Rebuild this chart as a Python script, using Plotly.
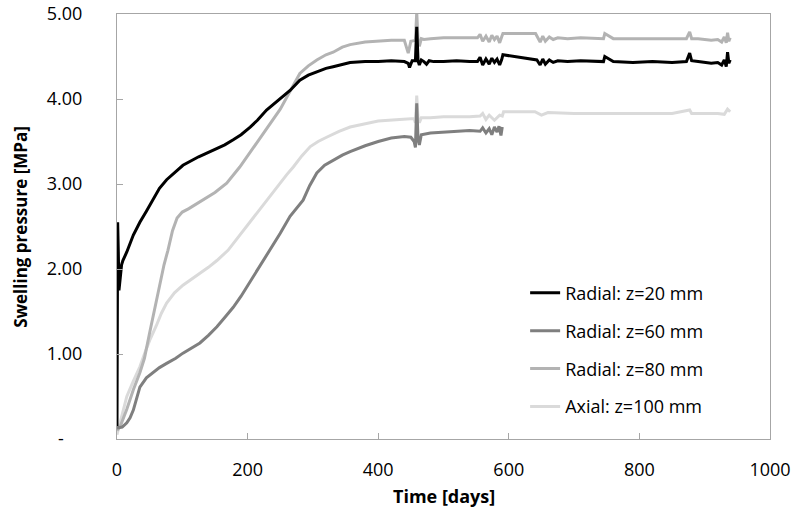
import plotly.graph_objects as go

# ---------------- data ----------------
names = ["Radial: z=20 mm", "Radial: z=60 mm", "Radial: z=80 mm", "Axial: z=100 mm"]
colors = ["#000000", "#7f7f7f", "#b3b3b3", "#dadada"]

t_r20 = [0, 1, 2, 3, 5, 7, 9, 15, 25, 35, 45, 55, 65, 76, 90, 101, 125, 147, 165, 178, 190,
         204, 215, 229, 240, 254, 265, 280, 293, 306, 320, 331, 345, 357, 380, 400, 420, 440,
         446, 448, 452, 457, 459, 461, 463, 466, 470, 474, 478, 485, 500, 520, 540, 552, 556,
         560, 565, 570, 574, 578, 582, 586, 589, 591, 643, 648, 652, 656, 662, 668, 675, 690,
         710, 730, 745, 747, 760, 790, 820, 850, 872, 877, 880, 890, 900, 910, 920, 926, 930,
         933, 935, 937, 939]
p_r20 = [0.15, 2.55, 2.2, 1.75, 1.9, 2.05, 2.1, 2.2, 2.4, 2.55, 2.68, 2.81, 2.95, 3.05, 3.15,
         3.22, 3.32, 3.4, 3.46, 3.52, 3.58, 3.67, 3.75, 3.87, 3.94, 4.02, 4.1, 4.22, 4.28, 4.32,
         4.36, 4.38, 4.41, 4.43, 4.44, 4.44, 4.45, 4.44, 4.42, 4.37, 4.45, 4.45, 4.85, 4.45,
         4.40, 4.46, 4.44, 4.41, 4.45, 4.44, 4.44, 4.45, 4.44, 4.44, 4.49, 4.40, 4.47, 4.41,
         4.48, 4.43, 4.47, 4.40, 4.46, 4.52, 4.46, 4.40, 4.47, 4.41, 4.46, 4.43, 4.45, 4.44,
         4.45, 4.44, 4.44, 4.50, 4.44, 4.43, 4.44, 4.43, 4.44, 4.54, 4.45, 4.44, 4.43, 4.42,
         4.43, 4.40, 4.46, 4.38, 4.55, 4.42, 4.46]

t_r60 = [0, 8, 15, 20, 25, 30, 35, 45, 55, 65, 76, 90, 101, 115, 127, 140, 153, 165, 178, 190,
         199, 215, 234, 250, 265, 285, 295, 306, 318, 331, 345, 357, 380, 400, 420, 440, 450,
         455, 457, 459, 461, 463, 466, 480, 500, 520, 540, 556, 560, 565, 570, 574, 578, 582,
         585, 588, 590]
p_r60 = [0.13, 0.14, 0.19, 0.25, 0.34, 0.47, 0.61, 0.72, 0.78, 0.84, 0.89, 0.95, 1.01, 1.07,
         1.13, 1.22, 1.32, 1.43, 1.55, 1.68, 1.79, 1.99, 2.22, 2.42, 2.62, 2.81, 2.98, 3.13,
         3.22, 3.28, 3.34, 3.38, 3.45, 3.5, 3.54, 3.56, 3.55, 3.5, 3.43, 3.95, 3.52, 3.46, 3.58,
         3.6, 3.61, 3.62, 3.63, 3.62, 3.66, 3.6, 3.65, 3.58, 3.67, 3.61, 3.68, 3.57, 3.67]

t_r80 = [0, 5, 15, 25, 35, 42, 50, 58, 66, 72, 78, 85, 92, 100, 110, 120, 132, 150, 168, 178,
         188, 200, 214, 226, 239, 250, 260, 270, 280, 293, 306, 320, 331, 345, 357, 380, 400,
         420, 440, 444, 446, 450, 457, 459, 461, 463, 466, 470, 480, 500, 520, 540, 552, 556,
         560, 565, 570, 574, 578, 582, 586, 589, 591, 641, 644, 648, 652, 656, 662, 668, 675,
         690, 710, 730, 745, 747, 760, 790, 820, 850, 872, 877, 880, 890, 900, 910, 920, 926,
         930, 933, 935, 937, 939]
p_r80 = [0.1, 0.15, 0.35, 0.58, 0.78, 0.95, 1.25, 1.55, 1.83, 2.05, 2.22, 2.45, 2.6, 2.67, 2.71,
         2.76, 2.81, 2.9, 3.01, 3.1, 3.2, 3.33, 3.48, 3.62, 3.75, 3.88, 4.02, 4.16, 4.3, 4.39,
         4.46, 4.52, 4.55, 4.61, 4.64, 4.67, 4.68, 4.69, 4.69, 4.58, 4.54, 4.68, 4.69, 5.02,
         4.69, 4.62, 4.71, 4.70, 4.71, 4.72, 4.72, 4.72, 4.72, 4.76, 4.68, 4.74, 4.67, 4.75,
         4.70, 4.74, 4.66, 4.73, 4.77, 4.77, 4.72, 4.67, 4.74, 4.68, 4.73, 4.70, 4.72, 4.71,
         4.72, 4.71, 4.71, 4.77, 4.71, 4.71, 4.71, 4.71, 4.71, 4.79, 4.71, 4.71, 4.70, 4.69,
         4.70, 4.67, 4.73, 4.66, 4.78, 4.68, 4.72]

t_a100 = [0, 5, 10, 15, 25, 35, 42, 50, 60, 68, 76, 88, 101, 115, 127, 140, 153, 170, 185,
          200, 215, 229, 240, 250, 260, 270, 283, 296, 308, 321, 340, 357, 380, 400, 433, 455,
          457, 459, 461, 463, 466, 480, 500, 520, 540, 556, 560, 565, 570, 578, 586, 590, 592,
          640, 644, 650, 660, 700, 750, 800, 850, 877, 880, 900, 920, 930, 935, 939]
p_a100 = [0.05, 0.2, 0.35, 0.5, 0.68, 0.85, 1.0, 1.16, 1.33, 1.48, 1.6, 1.72, 1.81, 1.88, 1.95,
          2.02, 2.1, 2.22, 2.37, 2.52, 2.67, 2.81, 2.92, 3.01, 3.11, 3.2, 3.33, 3.44, 3.5, 3.55,
          3.62, 3.67, 3.71, 3.74, 3.76, 3.77, 3.72, 4.04, 3.77, 3.72, 3.78, 3.78, 3.79, 3.79,
          3.79, 3.80, 3.83, 3.76, 3.81, 3.75, 3.81, 3.80, 3.85, 3.85, 3.83, 3.81, 3.84, 3.83,
          3.83, 3.83, 3.83, 3.87, 3.83, 3.83, 3.83, 3.82, 3.88, 3.85]

series_t = [t_r20, t_r60, t_r80, t_a100]
series_p = [p_r20, p_r60, p_r80, p_a100]

x_ticks = [0, 200, 400, 600, 800, 1000]
y_ticks = [0, 1, 2, 3, 4, 5]
y_tick_text = ["-\u00a0\u00a0\u00a0\u00a0", "1.00", "2.00", "3.00", "4.00", "5.00"]

x_title = "Time [days]"
y_title = "Swelling pressure [MPa]"

# ---------------- figure ----------------
FONT = "Open Sans"
fig = go.Figure()
# draw lightest first so the black line sits on top
for i in [3, 2, 1, 0]:
    fig.add_trace(go.Scatter(
        x=series_t[i], y=series_p[i], mode="lines", name=names[i],
        legendgroup=f"g{i}", legendrank=i + 1,
        line=dict(color=colors[i], width=3),
    ))

axis_col = "#a6a6a6"
fig.update_layout(
    width=791, height=513,
    margin=dict(l=117, r=21, t=14, b=74, autoexpand=False),
    paper_bgcolor="white", plot_bgcolor="white",
    font=dict(family=FONT, size=18, color="#000000"),
    showlegend=True,
    legend=dict(
        x=0.625, y=0.387, xanchor="left", yanchor="top",
        traceorder="grouped", tracegroupgap=11.5,
        bgcolor="rgba(0,0,0,0)", font=dict(family=FONT, size=18),
    ),
    xaxis=dict(
        range=[0, 1000], tickvals=x_ticks, ticktext=[str(v) for v in x_ticks],
        showgrid=False, zeroline=False, showline=True, linecolor=axis_col, linewidth=1,
        mirror=True, ticks="inside", ticklen=6, tickcolor=axis_col, automargin=False,
        tickfont=dict(family=FONT, size=18), ticklabelstandoff=14, ticklabeloverflow="allow",
    ),
    yaxis=dict(
        range=[0, 5], tickvals=y_ticks, ticktext=y_tick_text,
        showgrid=False, zeroline=False, showline=True, linecolor=axis_col, linewidth=1,
        mirror=True, ticks="inside", ticklen=6, tickcolor=axis_col, automargin=False,
        tickfont=dict(family=FONT, size=18), ticklabelstandoff=30, ticklabeloverflow="allow",
    ),
    annotations=[
        dict(text=f"<b>{x_title}</b>", xref="paper", yref="paper", x=0.5, y=-0.134,
             xanchor="center", yanchor="middle", showarrow=False,
             font=dict(family=FONT, size=18)),
        dict(text=f"<b>{y_title}</b>", xref="paper", yref="paper", x=-0.148, y=0.5,
             xanchor="center", yanchor="middle", textangle=-90, showarrow=False,
             font=dict(family=FONT, size=17)),
    ],
)
# remove the browser's default 8px body margin so the figure sits at (0, 0)
fig.write_html("out.html", config={"displayModeBar": False},
               post_script="document.body.style.margin='0px';")
